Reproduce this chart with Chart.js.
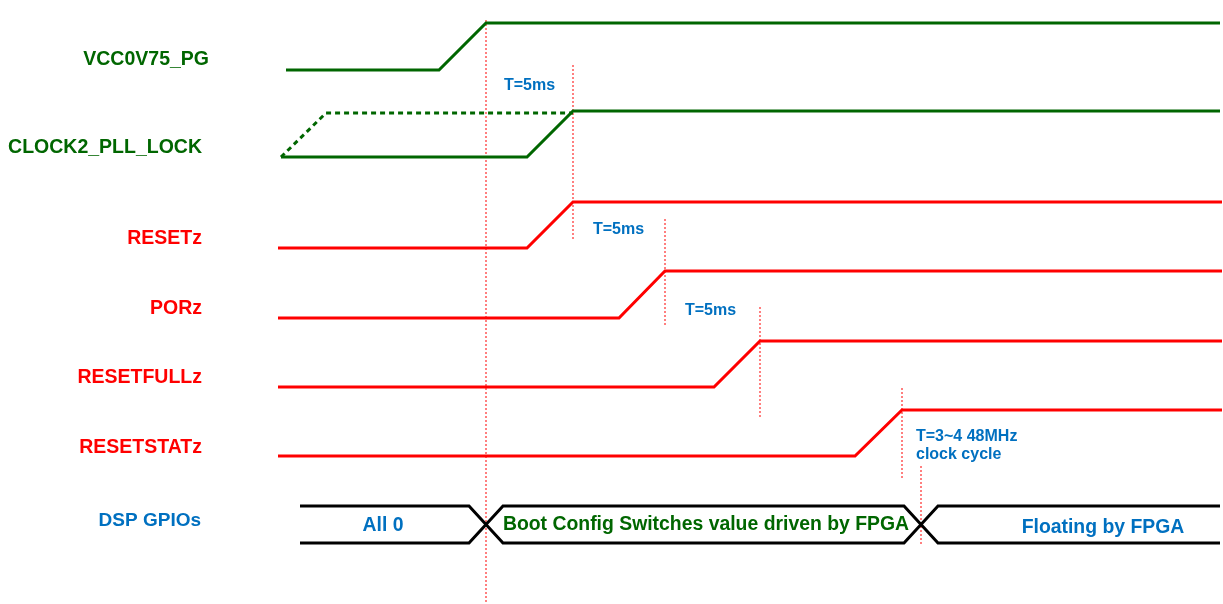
<!DOCTYPE html>
<html>
<head>
<meta charset="utf-8">
<title>Power-up reset sequence</title>
<script src="https://cdn.jsdelivr.net/npm/chart.js@4.4.1/dist/chart.umd.min.js"></script>
<style>
  html, body { margin: 0; padding: 0; background: #fff; }
  #wrap { width: 1223px; height: 604px; }
</style>
</head>
<body>
<div id="wrap"><canvas id="timing" width="1223" height="604"></canvas></div>
<script>
// Signals, top to bottom
const signalNames = ['VCC0V75_PG', 'CLOCK2_PLL_LOCK', 'RESETz', 'PORz', 'RESETFULLz', 'RESETSTATz']
// time the trace starts low, rising edge begins, edge done (high), trace ends
const traceStart = [286, 281, 278, 278, 278, 278]
const riseStart  = [439, 527, 527, 619, 714, 855]
const riseEnd    = [486, 573, 573, 665, 760, 902]
const traceEnd   = [1220, 1220, 1222, 1222, 1222, 1222]
// CLOCK2_PLL_LOCK may lock early (dashed path)
const earlyLockRise = [281, 326]
const earlyLockEnd = 573

// DSP GPIOs bus
const busName = 'DSP GPIOs'
const busStates = ['All 0', 'Boot Config Switches value driven by FPGA', 'Floating by FPGA']
const busEdges = [300, 486, 921, 1220] // start, crossing, crossing, end

// dotted timing markers and their notes
const markerTimes = [486, 573, 665, 760, 902, 921]
const delayNotes = [['T=5ms'], ['T=5ms'], ['T=5ms'], ['T=3~4 48MHz', 'clock cycle']]

// ---- layout (pixels) ----
const laneLow  = [70, 157, 248, 318, 387, 456]
const laneHigh = [23, 111, 202, 271, 341, 410]
const busTop = 506, busBottom = 543, busSlope = 17
const markerSpans = [[20, 604], [65, 240], [219, 327], [307, 418], [388, 479], [466, 545]]
const noteAt = [[504, 86], [593, 230], [685, 311], [916, 437]]
const labelRight = [209, 202, 202, 202, 202, 202]
const labelY = [60, 148, 239, 309, 378, 448]
const busLabelRight = 201
const busLabelY = 521
const busTextX = [383, 706, 1103]
const busTextY = [526, 525, 528]

const GREEN = '#006600'
const RED = '#ff0000'
const BLUE = '#0070c0'
const signalColors = [GREEN, GREEN, RED, RED, RED, RED]
const busTextColors = [BLUE, GREEN, BLUE]
const FONT = '"Liberation Sans", Arial, sans-serif'

let datasets = []

// markers first so the traces sit on top of them
markerTimes.forEach((t, i) => {
  datasets.push({
    data: [{x: t, y: markerSpans[i][0]}, {x: t, y: markerSpans[i][1]}],
    borderColor: RED,
    borderWidth: 1,
    borderDash: [2, 2],
    order: 10
  })
})

signalNames.forEach((name, i) => {
  datasets.push({
    label: name,
    data: [
      {x: traceStart[i], y: laneLow[i]},
      {x: riseStart[i], y: laneLow[i]},
      {x: riseEnd[i], y: laneHigh[i]},
      {x: traceEnd[i], y: laneHigh[i]}
    ],
    borderColor: signalColors[i],
    borderWidth: 3,
    order: 1
  })
})

datasets.push({
  label: 'CLOCK2_PLL_LOCK early',
  data: [
    {x: earlyLockRise[0], y: laneLow[1]},
    {x: earlyLockRise[1], y: laneHigh[1] + 2},
    {x: earlyLockEnd, y: laneHigh[1] + 2}
  ],
  borderColor: GREEN,
  borderWidth: 3,
  borderDash: [5, 4],
  order: 1
})

// bus: two crossing lines
const busA = [], busB = []
busEdges.forEach((t, i) => {
  if (i === 0) {
    busA.push({x: t, y: busTop}); busB.push({x: t, y: busBottom})
  } else if (i === busEdges.length - 1) {
    busA.push({x: t, y: busA[busA.length - 1].y})
    busB.push({x: t, y: busB[busB.length - 1].y})
  } else {
    const a = busA[busA.length - 1].y, b = busB[busB.length - 1].y
    busA.push({x: t - busSlope, y: a}, {x: t + busSlope, y: b})
    busB.push({x: t - busSlope, y: b}, {x: t + busSlope, y: a})
  }
})
;[busA, busB].forEach(d => {
  datasets.push({label: busName, data: d, borderColor: '#000', borderWidth: 3, order: 2})
})

const textPlugin = {
  id: 'timingText',
  afterDatasetsDraw(chart) {
    const ctx = chart.ctx
    const xs = chart.scales.x, ys = chart.scales.y
    ctx.save()
    ctx.textBaseline = 'middle'

    ctx.font = 'bold 19.5px ' + FONT
    ctx.textAlign = 'right'
    signalNames.forEach((name, i) => {
      ctx.fillStyle = signalColors[i]
      ctx.fillText(name, xs.getPixelForValue(labelRight[i]), ys.getPixelForValue(labelY[i]))
    })
    ctx.fillStyle = BLUE
    ctx.font = 'bold 19px ' + FONT
    ctx.fillText(busName, xs.getPixelForValue(busLabelRight), ys.getPixelForValue(busLabelY))

    ctx.font = 'bold 19.4px ' + FONT
    ctx.textAlign = 'center'
    busStates.forEach((s, i) => {
      ctx.fillStyle = busTextColors[i]
      ctx.fillText(s, xs.getPixelForValue(busTextX[i]), ys.getPixelForValue(busTextY[i]))
    })

    ctx.font = 'bold 16px ' + FONT
    ctx.textAlign = 'left'
    ctx.fillStyle = BLUE
    delayNotes.forEach((lines, i) => {
      lines.forEach((line, k) => {
        ctx.fillText(line, xs.getPixelForValue(noteAt[i][0]), ys.getPixelForValue(noteAt[i][1] + k * 18))
      })
    })
    ctx.restore()
  }
}

new Chart(document.getElementById('timing'), {
  type: 'line',
  data: {datasets: datasets},
  options: {
    responsive: false,
    animation: false,
    events: [],
    clip: false,
    layout: {padding: 0},
    elements: {
      point: {radius: 0},
      line: {tension: 0, borderJoinStyle: 'miter', borderCapStyle: 'butt', fill: false}
    },
    plugins: {legend: {display: false}, tooltip: {enabled: false}},
    scales: {
      x: {type: 'linear', min: 0, max: 1223, display: false},
      y: {type: 'linear', min: 0, max: 604, reverse: true, display: false}
    }
  },
  plugins: [textPlugin]
})
</script>
</body>
</html>
